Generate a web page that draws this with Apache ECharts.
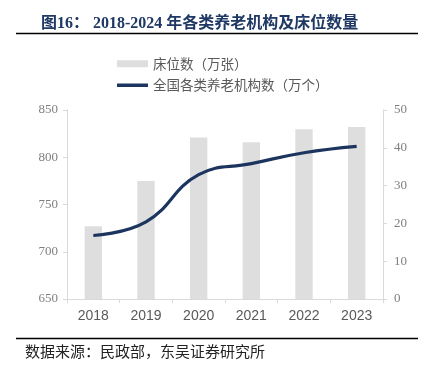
<!DOCTYPE html>
<html>
<head>
<meta charset="utf-8">
<script src="https://cdn.jsdelivr.net/npm/echarts@6/dist/echarts.min.js"></script>
<style>
  html, body { margin: 0; padding: 0; background: #fff; }
  #chart { width: 429px; height: 375px; }
</style>
</head>
<body>
<div id="chart"></div>
<script>
const years = ["2018", "2019", "2020", "2021", "2022", "2023"];
// 床位数（万张）
const beds = [727, 775, 821, 816, 829.5, 832];
// 全国各类养老机构数（万个）
const institutions = [16.8, 20.4, 32.9, 35.8, 38.7, 40.4];

const navy = "#1c355e";
const axisGray = "#d9d9d9";
const serif = "'Liberation Serif', 'Noto Sans CJK SC', serif";
const cjk = "'Noto Sans CJK SC', sans-serif";

const chart = echarts.init(document.getElementById("chart"));

const option = {
  animation: false,
  title: {
    text: "图16： 2018-2024 年各类养老机构及床位数量",
    left: 36,
    top: 11,
    textStyle: {
      fontFamily: serif,
      fontSize: 16,
      fontWeight: "bold",
      color: "#1f3864",
    },
  },
  legend: {
    orient: "vertical",
    left: 112,
    top: 52,
    itemWidth: 31,
    itemHeight: 7,
    itemGap: 8,
    textStyle: { fontFamily: cjk, fontSize: 13.5, color: "#595959" },
    data: [
      { name: "床位数（万张）", icon: "rect" },
      { name: "全国各类养老机构数（万个）", icon: "path://M0,0L31,0L31,3.5L0,3.5Z" },
    ],
  },
  grid: { left: 67, right: 46, top: 110, bottom: 76 },
  xAxis: {
    type: "category",
    data: years,
    axisLine: { lineStyle: { color: axisGray } },
    axisTick: { show: true, length: 4, lineStyle: { color: axisGray } },
    axisLabel: {
      fontFamily: "'Liberation Sans', Arial, sans-serif",
      fontSize: 14,
      color: "#595959",
      margin: 10,
    },
  },
  yAxis: [
    {
      type: "value",
      min: 650,
      max: 850,
      interval: 50,
      splitLine: { show: false },
      axisLine: { show: true, lineStyle: { color: axisGray } },
      axisTick: { show: true, length: 4, lineStyle: { color: axisGray } },
      axisLabel: { fontFamily: serif, fontSize: 13, color: "#7f7f7f", margin: 9 },
    },
    {
      type: "value",
      min: 0,
      max: 50,
      interval: 10,
      splitLine: { show: false },
      axisLine: { show: true, lineStyle: { color: axisGray } },
      axisTick: { show: true, length: 4, lineStyle: { color: axisGray } },
      axisLabel: { fontFamily: serif, fontSize: 13, color: "#7f7f7f", margin: 11 },
    },
  ],
  series: [
    {
      name: "床位数（万张）",
      type: "bar",
      data: beds,
      barWidth: "33%",
      itemStyle: { color: "#dedede" },
    },
    {
      name: "全国各类养老机构数（万个）",
      type: "line",
      yAxisIndex: 1,
      data: institutions,
      smooth: 0.45,
      symbol: "none",
      lineStyle: { color: navy, width: 3.2 },
      itemStyle: { color: navy },
    },
  ],
  graphic: [
    {
      type: "line",
      shape: { x1: 16, y1: 33.5, x2: 418, y2: 33.5 },
      style: { stroke: "#000", lineWidth: 1.5 },
    },
    {
      type: "line",
      shape: { x1: 16, y1: 338.5, x2: 418, y2: 338.5 },
      style: { stroke: "#000", lineWidth: 1.5 },
    },
    {
      type: "text",
      left: 25,
      top: 344,
      style: {
        text: "数据来源：民政部，东吴证券研究所",
        font: "15px 'Noto Sans CJK SC', sans-serif",
        fill: "#222",
      },
    },
  ],
};

chart.setOption(option);
</script>
</body>
</html>
